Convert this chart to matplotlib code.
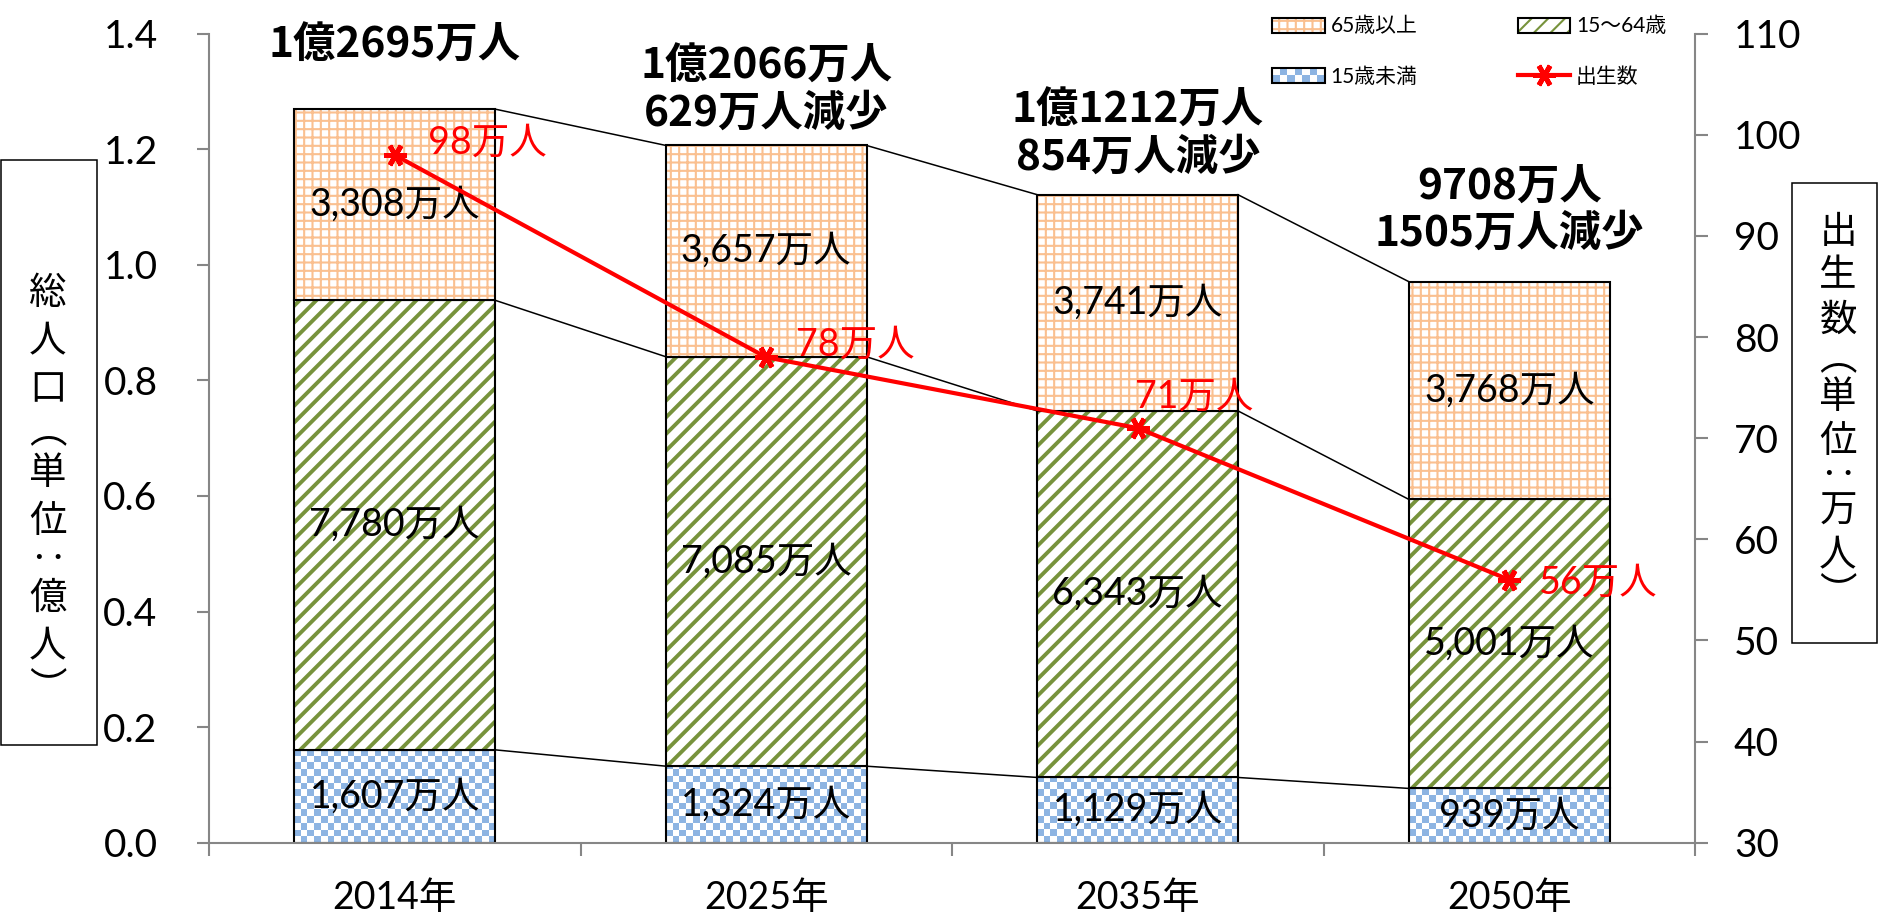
import numpy as np
import matplotlib
matplotlib.use("Agg")
import matplotlib.pyplot as plt
import matplotlib.colors as mcolors
from matplotlib.patches import Rectangle, Patch
from matplotlib.lines import Line2D
from matplotlib.legend_handler import HandlerBase

# population by age group (億人) and births (万人)
years = ["2014年", "2025年", "2035年", "2050年"]
under15 = [0.1607, 0.1324, 0.1129, 0.0939]
age15_64 = [0.7780, 0.7085, 0.6343, 0.5001]
over65 = [0.3308, 0.3657, 0.3741, 0.3768]
births = [98, 78, 71, 56]

under15_labels = ["1,607万人", "1,324万人", "1,129万人", "939万人"]
age15_64_labels = ["7,780万人", "7,085万人", "6,343万人", "5,001万人"]
over65_labels = ["3,308万人", "3,657万人", "3,741万人", "3,768万人"]
birth_labels = ["98万人", "78万人", "71万人", "56万人"]
total_labels = ["1億2695万人",
                "1億2066万人\n629万人減少",
                "1億1212万人\n854万人減少",
                "9708万人\n1505万人減少"]

FONT = ["Lato", "Noto Sans CJK JP", "DejaVu Sans"]
JP = ["Noto Sans CJK JP", "DejaVu Sans"]
plt.rcParams["font.family"] = FONT

C_BLUE = "#8DB4E2"
C_GREEN = "#77933C"
C_ORANGE = "#FAC090"
GRAY = "#868686"
W = 0.54

fig = plt.figure(figsize=(18.79, 9.19), dpi=100)
ax1 = fig.add_axes([209 / 1879, 76.3 / 919, 1486 / 1879, 809 / 919])
ax2 = ax1.twinx()

x = np.arange(len(years))
b_u15 = np.array(under15)
b_mid = b_u15 + np.array(age15_64)
tot = b_mid + np.array(over65)

ax1.set_xlim(-0.5, 3.5)
ax1.set_ylim(0, 1.4)
ax2.set_ylim(30, 110)

# under 15: outlined bars, checker fill drawn as clipped images
bars_u15 = ax1.bar(x, under15, W, facecolor="none", edgecolor="black", lw=1.5, zorder=2)

plt.rcParams["hatch.linewidth"] = 2.8
bars_mid = ax1.bar(x, age15_64, W, bottom=b_u15, facecolor="white",
                   edgecolor="black", lw=1.5, hatch="//", zorder=2)
plt.rcParams["hatch.linewidth"] = 1.5
bars_top = ax1.bar(x, over65, W, bottom=b_mid, facecolor="white",
                   edgecolor="black", lw=1.5, hatch="++", zorder=2)

for bars, col, hlw in [(bars_mid, C_GREEN, 2.8), (bars_top, C_ORANGE, 1.5)]:
    for p in bars:
        p._hatch_color = mcolors.to_rgba(col)
        if hasattr(p, "set_hatch_linewidth"):
            p.set_hatch_linewidth(hlw)

# checker pattern
CELL = 6.7
pts = ax1.transData.transform([(0, 0), (1, 1)])
ux = CELL / (pts[1, 0] - pts[0, 0])
uy = CELL / (pts[1, 1] - pts[0, 1])
cmap = mcolors.ListedColormap(["white", C_BLUE])
for p in bars_u15:
    x0, y0 = p.get_x(), p.get_y()
    nx = int(np.ceil(p.get_width() / ux))
    ny = int(np.ceil(p.get_height() / uy))
    grid = (np.add.outer(np.arange(ny), np.arange(nx)) % 2).astype(float)
    im = ax1.imshow(grid, cmap=cmap, vmin=0, vmax=1, origin="lower",
                    extent=(x0, x0 + nx * ux, y0, y0 + ny * uy),
                    aspect="auto", interpolation="nearest", zorder=1.5)
    im.set_clip_path(p)

ax1.set_xlim(-0.5, 3.5)
ax1.set_ylim(0, 1.4)

# connector lines between neighbouring bars
for i in range(len(years) - 1):
    for lev in (tot, b_mid, b_u15):
        ax1.plot([x[i] + W / 2, x[i + 1] - W / 2], [lev[i], lev[i + 1]],
                 color="black", lw=1.1, zorder=1)

# segment labels
for i in range(len(years)):
    ax1.text(x[i], under15[i] / 2, under15_labels[i], ha="center", va="center", fontsize=27, zorder=5)
    ax1.text(x[i], b_u15[i] + age15_64[i] / 2, age15_64_labels[i], ha="center", va="center", fontsize=27, zorder=5)
    ax1.text(x[i], b_mid[i] + over65[i] / 2, over65_labels[i], ha="center", va="center", fontsize=27, zorder=5)

# totals above bars
total_offsets = [63, 55, 61, 71]
for i in range(len(years)):
    ax1.annotate(total_labels[i], (x[i], tot[i]), xytext=(0, total_offsets[i]),
                 textcoords="offset pixels", ha="center", va="center",
                 fontsize=30.5, fontweight="bold", family=JP, linespacing=1.15, zorder=5)

# births line
ax2.plot(x, births, color="red", lw=3, marker=(6, 2, 90), ms=16, mew=3.5,
         zorder=4, label="出生数")
birth_offsets = [(33, 12), (30, 13), (-3, 31), (30, -3)]
for i in range(len(years)):
    ax2.annotate(birth_labels[i], (x[i], births[i]), xytext=birth_offsets[i],
                 textcoords="offset pixels", ha="left", va="center",
                 fontsize=27, color="red", zorder=6)

# axes styling
for s in ["top", "right"]:
    ax1.spines[s].set_visible(False)
for s in ["top", "left", "bottom"]:
    ax2.spines[s].set_visible(False)
ax1.spines["left"].set_color(GRAY)
ax1.spines["bottom"].set_color(GRAY)
ax2.spines["right"].set_color(GRAY)
for s in (ax1.spines["left"], ax1.spines["bottom"], ax2.spines["right"]):
    s.set_linewidth(1.5)

ax1.set_yticks(np.arange(0, 1.41, 0.2))
ax1.set_yticklabels([f"{v:.1f}" for v in np.arange(0, 1.41, 0.2)])
ax1.tick_params(axis="y", length=9, width=1.5, color=GRAY, pad=28, labelsize=28)
ax2.set_yticks(np.arange(30, 111, 10))
ax2.tick_params(axis="y", length=9, width=1.5, color=GRAY, pad=19, labelsize=28)

ax1.set_xticks(x)
ax1.set_xticklabels(years)
ax1.set_xticks(np.arange(-0.5, 3.6, 1), minor=True)
ax1.tick_params(axis="x", which="major", length=0, pad=27, labelsize=27)
ax1.tick_params(axis="x", which="minor", length=9, width=1.5, color=GRAY)


# legend
class HandlerChecker(HandlerBase):
    def create_artists(self, legend, orig_handle, xdescent, ydescent,
                       width, height, fontsize, trans):
        arts = []
        rows = 2
        ch = height / rows
        cols = max(1, int(round(width / ch)))
        cw = width / cols
        for r in range(rows):
            for c in range(cols):
                if (r + c) % 2 == 0:
                    arts.append(Rectangle((-xdescent + c * cw, -ydescent + r * ch), cw, ch,
                                          facecolor=C_BLUE, edgecolor="none", transform=trans))
        arts.append(Rectangle((-xdescent, -ydescent), width, height, facecolor="none",
                              edgecolor="black", lw=1.5, transform=trans))
        return arts


proxy_u15 = Patch(label="15歳未満")
h_line = Line2D([], [], color="red", lw=3, marker=(6, 2, 90), ms=16, mew=3.5)
leg = ax2.legend([bars_top, proxy_u15, bars_mid, h_line],
                 ["65歳以上", "15歳未満", "15〜64歳", "出生数"],
                 ncol=2, frameon=False, fontsize=15,
                 handler_map={proxy_u15: HandlerChecker()},
                 handlelength=2.5, handleheight=0.75, handletextpad=0.3,
                 labelspacing=1.45, columnspacing=4.8, borderpad=0,
                 loc="upper left", bbox_to_anchor=(1262 / 1879, 1 - 6 / 919),
                 bbox_transform=fig.transFigure)
leg.set_zorder(10)

# boxed axis titles
fig.add_artist(Rectangle((1 / 1879, (919 - 745) / 919), 96 / 1879, 585 / 919,
                         transform=fig.transFigure, fill=False, edgecolor="black", lw=1.1))
fig.add_artist(Rectangle((1792 / 1879, (919 - 643) / 919), 85 / 1879, 460 / 919,
                         transform=fig.transFigure, fill=False, edgecolor="black", lw=1.1))


def vertical_title(xc, yc, text, pitch):
    # stack characters top to bottom, brackets and colon take less room
    narrow = {"︵": 0.75, "︶": 0.75, "‥": 0.6}
    sizes = np.array([narrow.get(ch, 1.0) * pitch for ch in text])
    centers = np.cumsum(sizes) - sizes / 2
    mid = (centers[0] + centers[-1]) / 2
    for ch, c in zip(text, centers):
        fig.text(xc / 1879, 1 - (yc + c - mid) / 919, ch, ha="center", va="center",
                 fontsize=27, family=JP)


vertical_title(48, 491, "総人口︵単位‥億人︶", 48)
vertical_title(1838, 413, "出生数︵単位‥万人︶", 44)

fig.savefig("out.png", dpi=100)
